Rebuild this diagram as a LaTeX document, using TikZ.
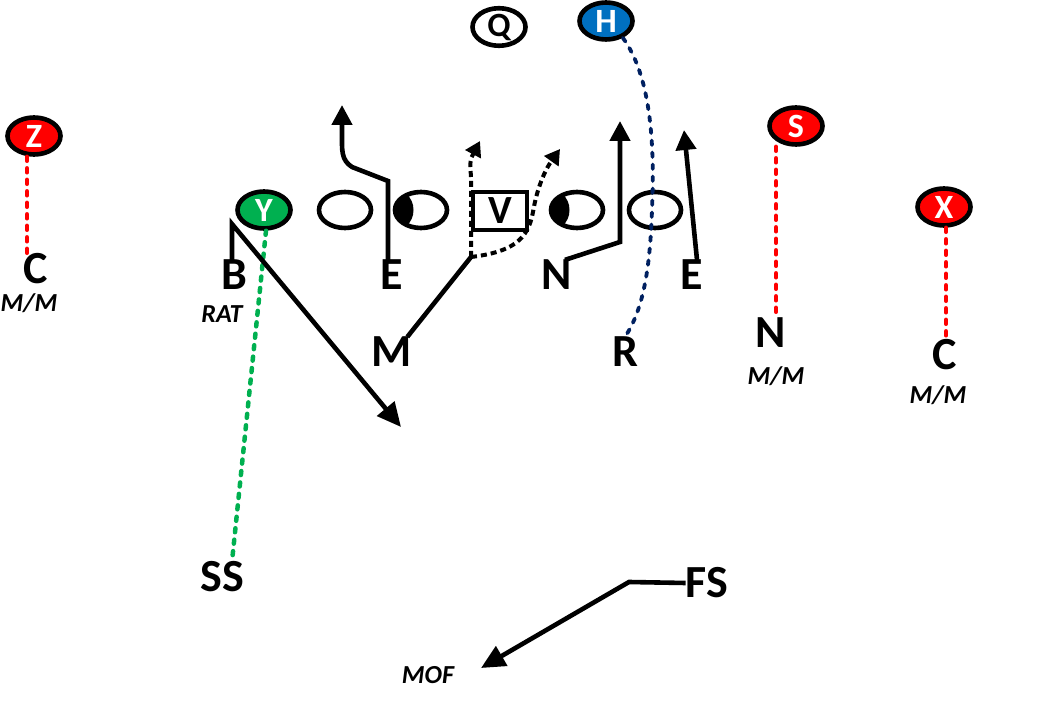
\documentclass[tikz,border=0pt]{standalone}
\usepackage{fontspec}
\setmainfont{Carlito}
\usetikzlibrary{arrows.meta,shapes.geometric}
\definecolor{ored}{HTML}{FF0000}
\definecolor{ogreen}{HTML}{00B050}
\definecolor{oblue}{HTML}{0070C0}
\definecolor{onavy}{HTML}{002060}
\begin{document}
\begin{tikzpicture}[x=1pt,y=-1pt,
  player/.style={ellipse, draw=black, line width=4.6pt, minimum width=53pt, minimum height=37pt, inner sep=0pt, text=white, font=\fontsize{34}{34}\selectfont\bfseries},
  lineman/.style={ellipse, draw=black, fill=white, line width=4.6pt, minimum width=52pt, minimum height=36pt, inner sep=0pt},
  centerbox/.style={draw=black, line width=4.6pt, minimum width=54pt, minimum height=38pt, inner sep=0pt, font=\fontsize{40}{40}\selectfont\bfseries},
  biglabel/.style={inner sep=0pt, font=\fontsize{46}{46}\selectfont\bfseries},
  smalllabel/.style={inner sep=0pt, font=\fontsize{26}{26}\selectfont\bfseries\itshape},
  route/.style={draw=black, line width=4.6pt},
  dashroute/.style={draw=black, line width=4pt, dash pattern=on 6pt off 4pt},
  bigtip/.style={-{Triangle[length=24pt,width=22pt]}},
  midtip/.style={-{Triangle[length=20pt,width=20pt]}},
  smalltip/.style={-{Triangle[length=15pt,width=17pt]}},
  reddot/.style={draw=ored, line width=4.5pt, line cap=round, dash pattern=on 4pt off 7.5pt},
  greendot/.style={draw=ogreen, line width=4.5pt, line cap=round, dash pattern=on 4pt off 7.5pt},
  navydot/.style={draw=onavy, line width=3.8pt, line cap=round, dash pattern=on 4.5pt off 7.5pt}
]
\useasboundingbox (0,0) rectangle (1037,719);

% offense / skill players
\node[player, fill=white, text=black] (Q) at (499,27) {Q};
\node[player, fill=oblue] (H) at (606,21) {H};
\node[player, fill=ored] (Z) at (34,136) {Z};
\node[player, fill=ored] (S) at (796,126) {S};
\node[player, fill=ored] (X) at (944,207) {X};
\node[player, fill=ogreen] (Y) at (264,210) {Y};

% line
\node[lineman] (L1) at (345,210) {};
\node[lineman] (L2) at (421,210) {};
\node[centerbox] (V) at (500,211) {V};
\node[lineman] (L3) at (577,210) {};
\node[lineman] (L4) at (655,210) {};

\foreach \L in {L2,L3}{
  \begin{scope}[shift={(\L.center)}]
    \clip (0,0) ellipse [x radius=26.5, y radius=18.5];
    \fill[black] (-40,-30) -- (-15,-30) -- (-15,-16) .. controls (-5,-9) and (-5,9) .. (-15,16) -- (-15,30) -- (-40,30) -- cycle;
  \end{scope}
}

% defenders
\node[biglabel] (C1) at (36,269) {C};
\node[smalllabel] (MM1) at (29,303) {M/M};
\node[biglabel] (B) at (234,275) {B};
\node[smalllabel] (RAT) at (222,314) {RAT};
\node[biglabel] (E1) at (392,275) {E};
\node[biglabel] (M) at (392,352) {M};
\node[biglabel] (N1) at (557,275) {N};
\node[biglabel] (E2) at (692,275) {E};
\node[biglabel] (R) at (625,352) {R};
\node[biglabel] (N2) at (771,333) {N};
\node[smalllabel] (MM2) at (776,376) {M/M};
\node[biglabel] (C2) at (945,355) {C};
\node[smalllabel] (MM3) at (938,395) {M/M};
\node[biglabel] (SS) at (222,577) {SS};
\node[biglabel] (FS) at (707,583) {FS};
\node[smalllabel] (MOF) at (428,675) {MOF};

% coverage (dotted)
\draw[reddot] ([xshift=-7pt]Z.south) -- ([xshift=-7pt]Z.south |- C1.north);
\draw[reddot] ([xshift=-20pt]S.south) -- ([xshift=-20pt]S.south |- N2.north);
\draw[reddot] ([xshift=2pt]X.south) -- ([xshift=2pt]X.south |- C2.north);
\draw[greendot] ([xshift=2pt]Y.south) -- ([xshift=10pt]SS.north);
\draw[navydot] (H.-45) .. controls (650,75) and (655,140) .. (652,210)
   .. controls (650,270) and (643,310) .. (R.north);

% B route
\coordinate (bT) at (232,224);
\coordinate (bA) at (401,427);
\draw[route, bigtip] (B.north -| bT) -- (bT) -- (bA);

% E (left) route
\coordinate (e1a) at (388,181);
\coordinate (e1b) at (352,167);
\coordinate (e1c) at (342,135);
\coordinate (e1t) at (342,105);
\draw[route, midtip] (E1.north -| e1a) -- (e1a) -- (e1b) .. controls (341,160) and (342,150) .. (e1c) -- (e1t);

% M route
\coordinate (m1) at (471,257);
\coordinate (m2) at (471,178);
\coordinate (mt1) at (480,141);
\coordinate (m3) at (533,212);
\coordinate (mt2) at (560,149);
\draw[route] ([xshift=-5pt]M.north east) -- (m1);
\draw[dashroute, smalltip] (m1) -- (m2) .. controls (470,160) .. (mt1);
\draw[dashroute, smalltip] (m1) .. controls (512,252) and (528,240) .. (m3) .. controls (537,188) and (545,170) .. (mt2);

% N route
\coordinate (n1) at (620,242);
\coordinate (nt) at (620,121);
\draw[route, midtip] ([xshift=8pt]N1.north) -- (n1) -- (nt);

% E (right) route
\coordinate (e2t) at (684,130);
\draw[route, midtip] ([xshift=5pt]E2.north) -- (e2t);

% FS route
\coordinate (fs1) at (629,582);
\coordinate (fst) at (481,668);
\draw[route, bigtip] (FS.west) -- (fs1) -- (fst);
\end{tikzpicture}
\end{document}
